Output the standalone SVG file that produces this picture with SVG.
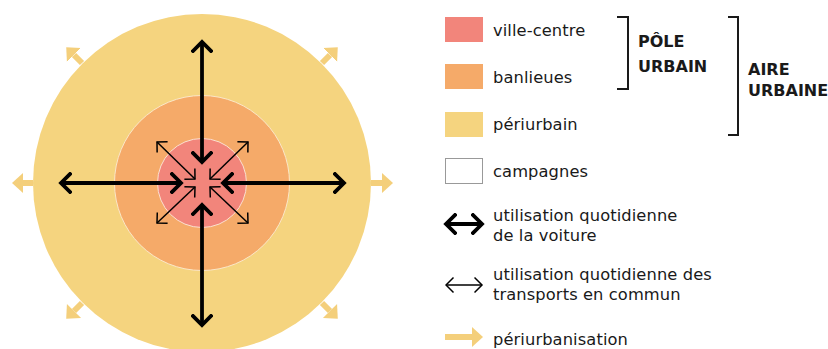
<svg xmlns="http://www.w3.org/2000/svg" width="828" height="349" viewBox="0 0 828 349">
<style>
.t{font-family:"DejaVu Sans","Open Sans",sans-serif;font-size:16.3px;letter-spacing:0.1px;fill:#1a1a1a}
.b{font-family:"DejaVu Sans","Open Sans",sans-serif;font-size:16px;font-weight:bold;fill:#1a1a1a}
.thick{stroke:#000;stroke-width:3.8;fill:none}
.thin{stroke:#000;stroke-width:1.5;fill:none}
.peach{stroke:#f4cf7b;stroke-width:6;fill:none}
.br{stroke:#1a1a1a;stroke-width:2;fill:none}
</style>
<defs>
<marker id="mThick" markerUnits="userSpaceOnUse" viewBox="0 0 14 22" refX="11" refY="11" markerWidth="14" markerHeight="22" orient="auto-start-reverse">
<path d="M2,2 L11,11 L2,20" fill="none" stroke="#000" stroke-width="3.8" stroke-linecap="square"/>
</marker>
<marker id="mThin" markerUnits="userSpaceOnUse" viewBox="0 0 10 18" refX="8.5" refY="9" markerWidth="10" markerHeight="18" orient="auto-start-reverse">
<path d="M1,1.5 L8.5,9 L1,16.5" fill="none" stroke="#000" stroke-width="1.5"/>
</marker>
<marker id="mPeach" markerUnits="userSpaceOnUse" viewBox="0 0 12 22" refX="0" refY="11" markerWidth="12" markerHeight="22" orient="auto">
<path d="M0,1 L11,11 L0,21 z" fill="#f4cf7b"/>
</marker>
</defs>

<g id="periurbain-zone"><circle cx="202" cy="183" r="169" fill="#f5d47f"/></g>
<g id="banlieues-zone"><circle cx="202" cy="183" r="87.5" fill="#f5aa69" stroke="#fbe6c8" stroke-width="1"/></g>
<g id="ville-centre-zone"><circle cx="202" cy="183" r="44.5" fill="#f2857b" stroke="#fbe0d0" stroke-width="1"/></g>

<g id="connectors">
<!-- periurbanisation arrows -->
<line class="peach" x1="33" y1="183" x2="23" y2="183" marker-end="url(#mPeach)"/>
<line class="peach" x1="371" y1="183" x2="382" y2="183" marker-end="url(#mPeach)"/>
<line class="peach" x1="82" y1="63" x2="74" y2="55" marker-end="url(#mPeach)"/>
<line class="peach" x1="322" y1="63" x2="330" y2="55" marker-end="url(#mPeach)"/>
<line class="peach" x1="82" y1="303" x2="74" y2="311" marker-end="url(#mPeach)"/>
<line class="peach" x1="322" y1="303" x2="330" y2="311" marker-end="url(#mPeach)"/>
<!-- car arrows -->
<line class="thick" x1="202" y1="42" x2="202" y2="162" marker-start="url(#mThick)" marker-end="url(#mThick)"/>
<line class="thick" x1="202" y1="325" x2="202" y2="205" marker-start="url(#mThick)" marker-end="url(#mThick)"/>
<line class="thick" x1="61" y1="183" x2="181" y2="183" marker-start="url(#mThick)" marker-end="url(#mThick)"/>
<line class="thick" x1="344" y1="183" x2="223" y2="183" marker-start="url(#mThick)" marker-end="url(#mThick)"/>
<!-- public transport arrows -->
<line class="thin" x1="157" y1="142" x2="195" y2="179" marker-start="url(#mThin)" marker-end="url(#mThin)"/>
<line class="thin" x1="248" y1="142" x2="210" y2="179" marker-start="url(#mThin)" marker-end="url(#mThin)"/>
<line class="thin" x1="157" y1="223" x2="195" y2="187" marker-start="url(#mThin)" marker-end="url(#mThin)"/>
<line class="thin" x1="248" y1="223" x2="210" y2="187" marker-start="url(#mThin)" marker-end="url(#mThin)"/>
</g>

<g id="legend-ville-centre"><rect x="445" y="17" width="38" height="25" fill="#f2857b"/><text class="t" x="493" y="36">ville-centre</text></g>
<g id="legend-banlieues"><rect x="445" y="64" width="38" height="25" fill="#f5aa69"/><text class="t" x="493" y="83">banlieues</text></g>
<g id="legend-periurbain"><rect x="445" y="112" width="38" height="25" fill="#f5d47f"/><text class="t" x="493" y="130">périurbain</text></g>
<g id="legend-campagnes"><rect x="445.5" y="158.5" width="37" height="25" fill="#fff" stroke="#999" stroke-width="1"/><text class="t" x="493" y="177">campagnes</text></g>
<g id="legend-voiture"><line class="thick" x1="446" y1="224" x2="482" y2="224" marker-start="url(#mThick)" marker-end="url(#mThick)"/><text class="t" x="493" y="221">utilisation quotidienne</text><text class="t" x="493" y="241">de la voiture</text></g>
<g id="legend-transports"><line class="thin" x1="446" y1="285" x2="482" y2="285" marker-start="url(#mThin)" marker-end="url(#mThin)"/><text class="t" x="493" y="280">utilisation quotidienne des</text><text class="t" x="493" y="300">transports en commun</text></g>
<g id="legend-periurbanisation"><line class="peach" x1="445" y1="337" x2="472" y2="337" marker-end="url(#mPeach)"/><text class="t" x="493" y="345">périurbanisation</text></g>

<g id="pole-urbain"><path class="br" d="M617,17 H628 V89 H617"/><text class="b" x="638" y="47">PÔLE</text><text class="b" x="638" y="72">URBAIN</text></g>
<g id="aire-urbaine"><path class="br" d="M728,17 H738 V135 H728"/><text class="b" x="748" y="75">AIRE</text><text class="b" x="748" y="96">URBAINE</text></g>
</svg>
